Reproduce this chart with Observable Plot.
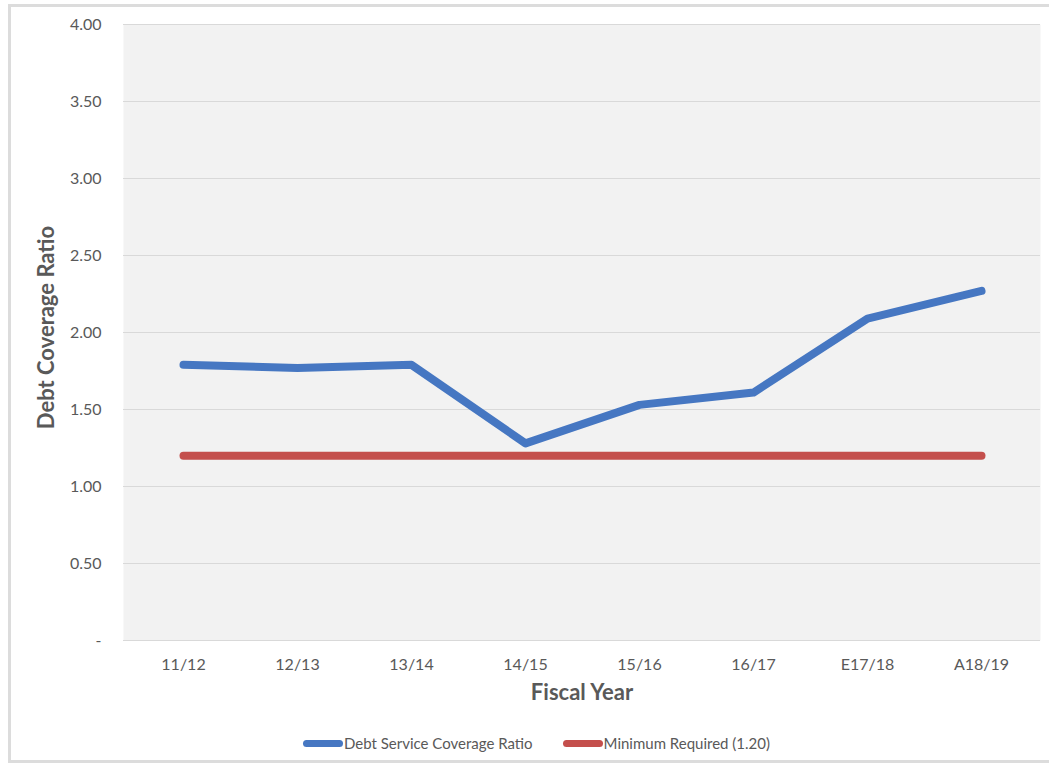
<!DOCTYPE html>
<html>
<head>
<meta charset="utf-8">
<script src="https://cdn.jsdelivr.net/npm/d3@7"></script>
<script src="https://cdn.jsdelivr.net/npm/@observablehq/plot@0.6"></script>
<style>
  html, body { margin: 0; padding: 0; background: #fff; }
  #frame { position: absolute; left: 8px; top: 4px; width: 1050px; height: 759px; border: 3px solid #dcdcdc; border-right: none; box-sizing: border-box; }
  #chart { position: absolute; left: 0; top: 0; }
  #legend { position: absolute; left: 12px; top: 734px; width: 1049px; display: flex; justify-content: center; gap: 30px; font-family: Lato, "Open Sans", sans-serif; font-size: 15px; color: #595959; }
  .item { display: flex; align-items: center; }
  .sw { display: inline-block; width: 40px; height: 7px; border-radius: 4px; margin-right: 1px; }
</style>
</head>
<body>
<div id="frame"></div>
<div id="chart"></div>
<div id="legend"></div>
<script>
const fiscalYears = ["11/12", "12/13", "13/14", "14/15", "15/16", "16/17", "E17/18", "A18/19"];
const dscrValues = [1.79, 1.77, 1.79, 1.28, 1.53, 1.61, 2.09, 2.27];
const minRequired = [1.20, 1.20, 1.20, 1.20, 1.20, 1.20, 1.20, 1.20];
const yTicks = [0, 0.5, 1, 1.5, 2, 2.5, 3, 3.5, 4];
const seriesNames = ["Debt Service Coverage Ratio", "Minimum Required (1.20)"];
const seriesColors = ["#4677c2", "#c44f4c"];

const dscr = fiscalYears.map((fy, i) => ({fy, v: dscrValues[i]}));
const mins = fiscalYears.map((fy, i) => ({fy, v: minRequired[i]}));

const plot = Plot.plot({
  width: 1049,
  height: 720,
  marginLeft: 123,
  marginRight: 9,
  marginTop: 24,
  marginBottom: 80,
  style: {fontFamily: "Lato, 'Open Sans', sans-serif", fontSize: "16px", color: "#595959", background: "transparent"},
  x: {type: "point", domain: fiscalYears, padding: 0.5, label: null},
  y: {domain: [0, 4], label: null},
  marks: [
    Plot.frame({fill: "#f2f2f2", stroke: null}),
    Plot.gridY(yTicks, {stroke: "#d9d9d9", strokeOpacity: 1, strokeWidth: 1.2}),
    Plot.axisY(yTicks, {tickSize: 0, tickPadding: 22, tickFormat: d => d === 0 ? "-" : d.toFixed(2), fontSize: 16, fill: "#595959"}),
    Plot.axisX({tickSize: 0, tickPadding: 18, fontSize: 16, fill: "#595959"}),
    Plot.text(["Fiscal Year"], {frameAnchor: "bottom", dy: 59, fontSize: 22, fontWeight: "bold", fill: "#595959"}),
    Plot.text(["Debt Coverage Ratio"], {frameAnchor: "left", textAnchor: "middle", dx: -77, dy: -5, rotate: -90, fontSize: 22, fontWeight: "bold", fill: "#595959"}),
    Plot.line(mins, {x: "fy", y: "v", stroke: seriesColors[1], strokeWidth: 8, strokeLinecap: "round", strokeLinejoin: "round"}),
    Plot.line(dscr, {x: "fy", y: "v", stroke: seriesColors[0], strokeWidth: 8, strokeLinecap: "round", strokeLinejoin: "round"})
  ]
});
document.getElementById("chart").appendChild(plot);

const legend = document.getElementById("legend");
seriesNames.forEach((name, i) => {
  const item = document.createElement("div");
  item.className = "item";
  const sw = document.createElement("span");
  sw.className = "sw";
  sw.style.background = seriesColors[i];
  const t = document.createElement("span");
  t.textContent = name;
  item.appendChild(sw);
  item.appendChild(t);
  legend.appendChild(item);
});
</script>
</body>
</html>
